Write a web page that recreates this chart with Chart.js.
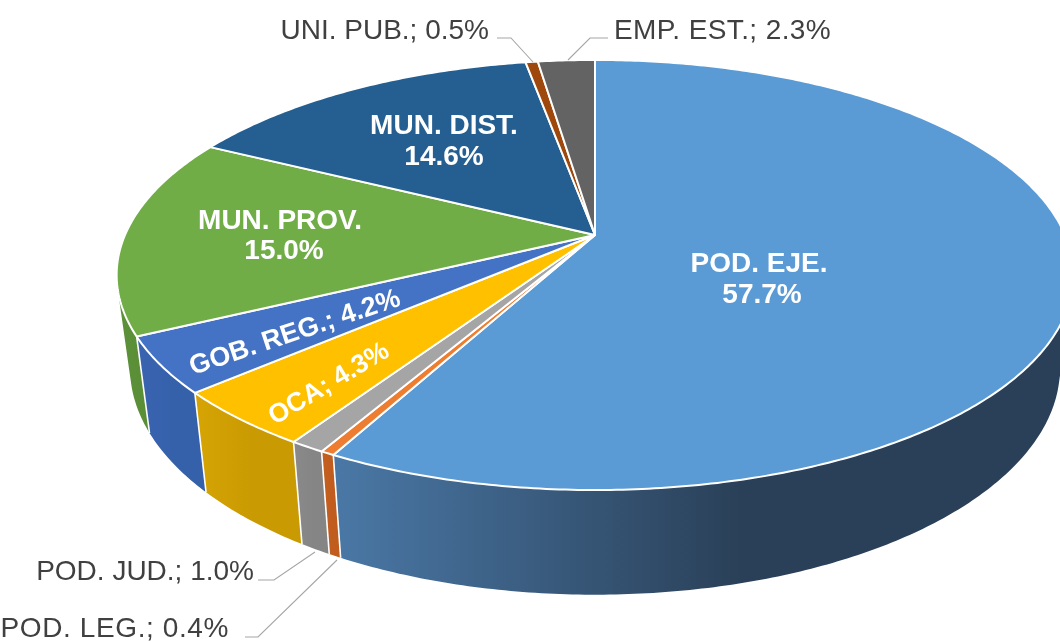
<!DOCTYPE html>
<html>
<head>
<meta charset="utf-8">
<title>Pie</title>
<script src="https://cdn.jsdelivr.net/npm/chart.js@4/dist/chart.umd.min.js"></script>
<style>
  html, body { margin: 0; padding: 0; background: #fff; overflow: hidden; }
  canvas { display: block; }
</style>
</head>
<body>
<canvas id="pie" width="1060" height="641"></canvas>
<script>
// data, clockwise from 12 o'clock
const categories = ['POD. EJE.', 'POD. LEG.', 'POD. JUD.', 'OCA', 'GOB. REG.', 'MUN. PROV.', 'MUN. DIST.', 'UNI. PUB.', 'EMP. EST.'];
const shares = [57.7, 0.4, 1.0, 4.3, 4.2, 15.0, 14.6, 0.5, 2.3];

const topColors = ['#5b9bd5', '#ed7d31', '#a5a5a5', '#ffc000', '#4472c4', '#70ad47', '#255e91', '#9e480e', '#636363'];
const wallColors = ['#4a78a6', '#c4601f', '#8a8a8a', '#d6a404', '#3a64b0', '#5c9239', '#255e91', '#9e480e', '#636363'];
const wallColorsEnd = ['#2a4058', '#c05c1e', '#858585', '#c99a02', '#3560aa', '#578a36', '#255e91', '#9e480e', '#636363'];

// perspective of the tilted disc: apex, radius, foreshortening, depth
const apexX = 595, apexY = 235;
const radius = 470, tilt = 207.6, persp = 0.186;
const depth = 91, bottomScale = 0.972;

function project(angle, bottom) {
  // angle is measured clockwise from the top of the disc
  const u = Math.sin(angle), v = -Math.cos(angle);
  const w = 1 - persp * v;
  if (bottom) {
    return [apexX + bottomScale * radius * u / w, apexY + (bottomScale * tilt * v + depth) / w];
  }
  return [apexX + radius * u / w, apexY + tilt * v / w];
}

function arcPoints(a0, a1, bottom) {
  const n = Math.max(2, Math.ceil((a1 - a0) * 90));
  const pts = [];
  for (let i = 0; i <= n; i++) {
    pts.push(project(a0 + (a1 - a0) * i / n, bottom));
  }
  return pts;
}

function tracePoly(ctx, pts) {
  ctx.beginPath();
  pts.forEach((p, i) => { i ? ctx.lineTo(p[0], p[1]) : ctx.moveTo(p[0], p[1]); });
}

function signedArea(pts) {
  let s = 0;
  pts.forEach((p, i) => {
    const q = pts[(i + 1) % pts.length];
    s += p[0] * q[1] - q[0] * p[1];
  });
  return s;
}

const disc3d = {
  id: 'disc3d',
  beforeDatasetsDraw(chart) {
    const ctx = chart.ctx;
    const arcs = chart.getDatasetMeta(0).data;
    const angles = arcs.map(a => [a.startAngle + Math.PI / 2, a.endAngle + Math.PI / 2]);
    ctx.save();
    ctx.lineJoin = 'round';

    // outer wall first, the top face covers what is behind it
    // one path of same-wound quads, so the left silhouette is filled without seams
    arcs.forEach((a, i) => {
      const [a0, a1] = angles[i];
      const top = arcPoints(a0, a1, false);
      const bot = arcPoints(a0, a1, true);
      const xs = top.concat(bot).map(p => p[0]);
      const x0 = Math.min(...xs), x1 = Math.max(...xs);
      const g = ctx.createLinearGradient(x0, 0, x0 + (x1 - x0) * 0.55, 0);
      g.addColorStop(0, wallColors[i]);
      g.addColorStop(1, wallColorsEnd[i]);
      ctx.fillStyle = g;
      ctx.beginPath();
      for (let k = 0; k < top.length - 1; k++) {
        let quad = [top[k], top[k + 1], bot[k + 1], bot[k]];
        if (signedArea(quad) < 0) quad = quad.reverse();
        quad.forEach((p, j) => { j ? ctx.lineTo(p[0], p[1]) : ctx.moveTo(p[0], p[1]); });
        ctx.closePath();
      }
      ctx.fill();
    });
    // white edges between wall pieces
    ctx.strokeStyle = '#ffffff';
    ctx.lineWidth = 1.6;
    angles.forEach(([a0]) => {
      const v = -Math.cos(a0);
      if (v < 0.1) return;
      const p = project(a0, false), q = project(a0, true);
      tracePoly(ctx, [p, q]);
      ctx.stroke();
    });

    // top face
    arcs.forEach((a, i) => {
      const [a0, a1] = angles[i];
      tracePoly(ctx, [[apexX, apexY]].concat(arcPoints(a0, a1, false)));
      ctx.closePath();
      ctx.fillStyle = topColors[i];
      ctx.fill();
      ctx.lineWidth = 2;
      ctx.stroke();
    });
    ctx.restore();
    return false;
  },
  afterDraw(chart) {
    const ctx = chart.ctx;
    const pct = shares.map(s => s.toFixed(1) + '%');
    ctx.save();
    ctx.textBaseline = 'middle';

    // leader lines
    ctx.strokeStyle = '#a6a6a6';
    ctx.lineWidth = 1.1;
    [[[497, 38], [511, 38], [533, 62]],
     [[608, 38], [590, 38], [568, 60]],
     [[258, 580], [274, 580], [315, 552]],
     [[245, 637], [258, 637], [337, 560]]].forEach(l => {
      tracePoly(ctx, l);
      ctx.stroke();
    });

    // outside labels
    ctx.fillStyle = '#404040';
    ctx.font = '28px "Liberation Sans"';
    ctx.textAlign = 'right';
    ctx.fillText(categories[7] + '; ' + pct[7], 489, 31);
    ctx.fillText(categories[2] + '; ' + pct[2], 254, 572);
    ctx.letterSpacing = '0.6px';
    ctx.fillText(categories[1] + '; ' + pct[1], 229, 629);
    ctx.textAlign = 'left';
    ctx.letterSpacing = '0.4px';
    ctx.fillText(categories[8] + '; ' + pct[8], 614, 31);
    ctx.letterSpacing = '0px';

    // labels on the slices
    ctx.fillStyle = '#ffffff';
    ctx.font = 'bold 28px "Liberation Sans"';
    ctx.textAlign = 'center';
    ctx.fillText(categories[0], 759, 264);
    ctx.fillText(pct[0], 762, 295);
    ctx.fillText(categories[5], 280, 221);
    ctx.fillText(pct[5], 284, 251);
    ctx.fillText(categories[6], 444, 126);
    ctx.fillText(pct[6], 444, 157);

    ctx.save();
    ctx.font = 'bold 27px "Liberation Sans"';
    ctx.translate(295, 333);
    ctx.rotate(-18.5 * Math.PI / 180);
    ctx.fillText(categories[4] + '; ' + pct[4], 0, 0);
    ctx.restore();

    ctx.save();
    ctx.font = 'bold 26.5px "Liberation Sans"';
    ctx.translate(329, 384);
    ctx.rotate(-31 * Math.PI / 180);
    ctx.fillText(categories[3] + '; ' + pct[3], 0, 0);
    ctx.restore();

    ctx.restore();
  }
};

new Chart(document.getElementById('pie').getContext('2d'), {
  type: 'pie',
  data: {
    labels: categories,
    datasets: [{ data: shares, backgroundColor: topColors, borderWidth: 0 }]
  },
  options: {
    responsive: false,
    animation: false,
    plugins: { legend: { display: false }, tooltip: { enabled: false } }
  },
  plugins: [disc3d]
});
</script>
</body>
</html>
